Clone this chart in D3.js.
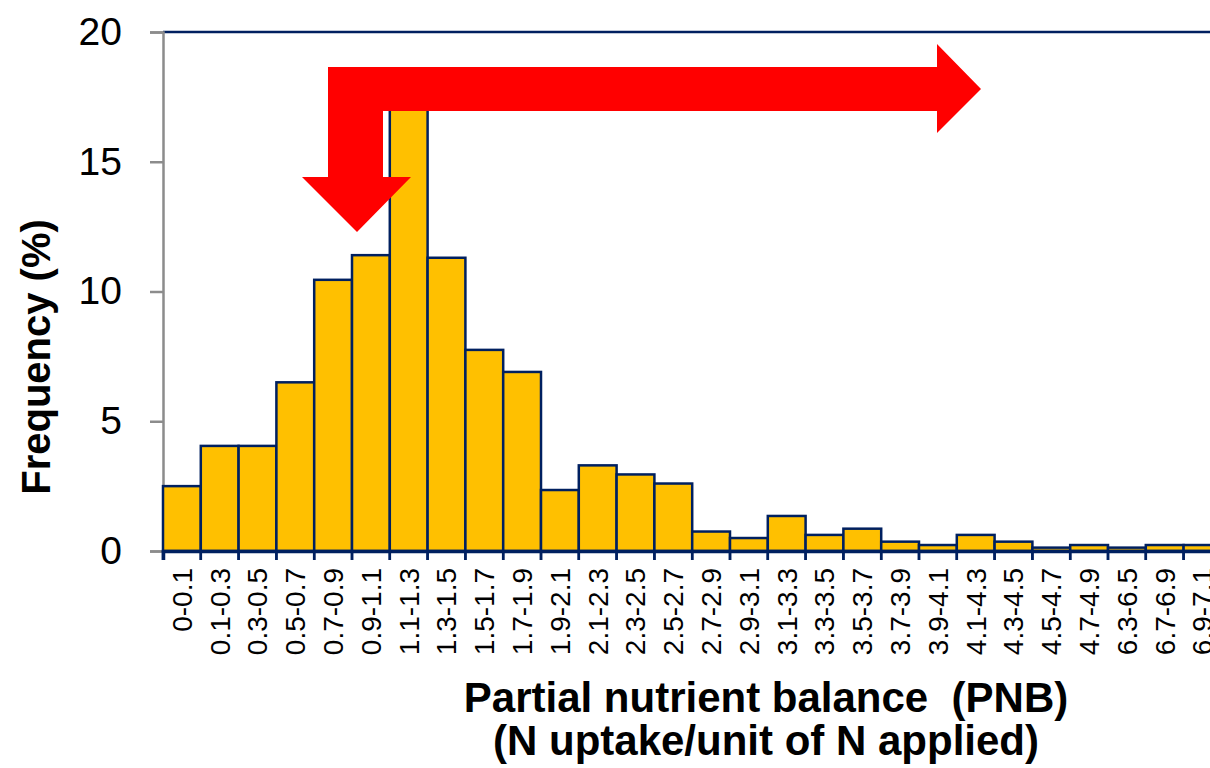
<!DOCTYPE html>
<html>
<head>
<meta charset="utf-8">
<script src="https://cdn.jsdelivr.net/npm/d3@7"></script>
<style>
  body { margin: 0; background: #fff; overflow: hidden; }
  svg { font-family: "Liberation Sans", Arial, sans-serif; }
</style>
</head>
<body>
<svg id="chart"></svg>
<script>
// bins of PNB and their frequency (%)
const bins = ["0-0.1", "0.1-0.3", "0.3-0.5", "0.5-0.7", "0.7-0.9", "0.9-1.1", "1.1-1.3",
  "1.3-1.5", "1.5-1.7", "1.7-1.9", "1.9-2.1", "2.1-2.3", "2.3-2.5", "2.5-2.7", "2.7-2.9",
  "2.9-3.1", "3.1-3.3", "3.3-3.5", "3.5-3.7", "3.7-3.9", "3.9-4.1", "4.1-4.3", "4.3-4.5",
  "4.5-4.7", "4.7-4.9", "6.3-6.5", "6.7-6.9", "6.9-7.1"];
const freq = [2.5, 4.05, 4.05, 6.5, 10.45, 11.4, 17.8,
  11.3, 7.75, 6.9, 2.35, 3.3, 2.95, 2.6, 0.75,
  0.5, 1.35, 0.62, 0.86, 0.36, 0.23, 0.62, 0.36,
  0.13, 0.23, 0.13, 0.23, 0.23];
const yTicks = [0, 5, 10, 15, 20];

const W = 1210, H = 768;
const margin = { top: 32, left: 163, bottom: 217 };
const plotH = H - margin.top - margin.bottom;   // 519
const bandW = 37.8;
const font = "'Liberation Sans', Arial, sans-serif";

const svg = d3.select("#chart").attr("width", W).attr("height", H);

const x = d3.scaleBand()
  .domain(bins)
  .range([margin.left, margin.left + bins.length * bandW])
  .padding(0);

const y = d3.scaleLinear()
  .domain([0, 20])
  .range([margin.top + plotH, margin.top]);

// top border line
svg.append("line")
  .attr("x1", margin.left).attr("x2", W)
  .attr("y1", y(20)).attr("y2", y(20))
  .attr("stroke", "#002060").attr("stroke-width", 2.5);

// y axis
const yAxis = d3.axisLeft(y).tickValues(yTicks).tickSize(13).tickPadding(28).tickFormat(d3.format("d"));
const yAxisG = svg.append("g")
  .attr("transform", `translate(${margin.left},0)`)
  .call(yAxis);
yAxisG.select(".domain").attr("stroke", "#8c8c8c").attr("stroke-width", 2.5);
yAxisG.selectAll(".tick line").attr("stroke", "#8c8c8c").attr("stroke-width", 2.5);
yAxisG.selectAll(".tick text")
  .attr("fill", "#000")
  .style("font-size", "39px")
  .style("font-family", font);

// bars
svg.append("g")
  .selectAll("rect")
  .data(bins)
  .join("rect")
  .attr("x", d => x(d))
  .attr("y", (d, i) => y(freq[i]))
  .attr("width", x.bandwidth())
  .attr("height", (d, i) => y(0) - y(freq[i]))
  .attr("fill", "#FFC000")
  .attr("stroke", "#002060")
  .attr("stroke-width", 2.5);

// x axis
const xAxis = d3.axisBottom(x).tickSize(9).tickPadding(6);
const xAxisG = svg.append("g")
  .attr("transform", `translate(0,${y(0)})`)
  .call(xAxis);
xAxisG.select(".domain").attr("stroke", "#002060").attr("stroke-width", 3.5);
xAxisG.selectAll(".tick line")
  .attr("stroke", "#002060").attr("stroke-width", 2.5)
  .attr("x1", -bandW / 2).attr("x2", -bandW / 2);
// extra tick at the right edge of each band
xAxisG.selectAll(".tick").append("line")
  .attr("x1", bandW / 2).attr("x2", bandW / 2)
  .attr("y1", 0).attr("y2", 9)
  .attr("stroke", "#002060").attr("stroke-width", 2.5);
xAxisG.selectAll(".tick text")
  .attr("fill", "#000")
  .style("font-size", "28px")
  .style("font-family", font)
  .attr("transform", "rotate(-90)")
  .attr("text-anchor", "end")
  .attr("x", -17)
  .attr("y", 0)
  .attr("dy", "0.35em");

// axis titles
svg.append("text")
  .attr("transform", "translate(50,357) rotate(-90)")
  .attr("text-anchor", "middle")
  .style("font-size", "40px")
  .style("font-weight", "bold")
  .text("Frequency (%)");

svg.append("text")
  .attr("x", 766).attr("y", 712)
  .attr("text-anchor", "middle")
  .style("font-size", "42px")
  .style("font-weight", "bold")
  .attr("xml:space", "preserve")
  .style("white-space", "pre")
  .text("Partial nutrient balance  (PNB)");

svg.append("text")
  .attr("x", 766).attr("y", 755)
  .attr("text-anchor", "middle")
  .style("font-size", "42px")
  .style("font-weight", "bold")
  .text("(N uptake/unit of N applied)");

// red L-shaped arrow annotation
const arrow = [
  [328, 67], [937, 67], [937, 44], [981, 89], [937, 133], [937, 111],
  [383, 111], [383, 177], [411, 177], [357, 232], [302, 177], [328, 177]
];
svg.append("path")
  .attr("d", d3.line()(arrow) + "Z")
  .attr("fill", "#FF0000");
</script>
</body>
</html>
